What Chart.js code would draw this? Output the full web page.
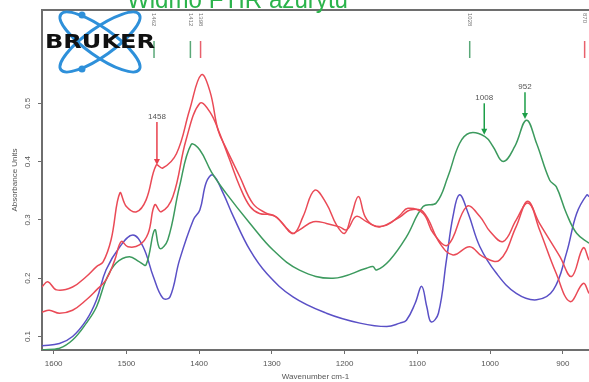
<!DOCTYPE html>
<html>
<head>
<meta charset="utf-8">
<script src="https://cdn.jsdelivr.net/npm/chart.js@4.4.0/dist/chart.umd.min.js"></script>
<style>
  html, body { margin: 0; padding: 0; background: #fff; }
  #wrap { width: 589px; height: 382px; position: relative; }
</style>
</head>
<body>
<div id="wrap"><canvas id="myChart"></canvas></div>
<script>
// axis ticks
const xTicks = [1600, 1500, 1400, 1300, 1200, 1100, 1000, 900];
const yTicks = [0.1, 0.2, 0.3, 0.4, 0.5];

// upper red spectrum
const r1Wn = [1616, 1608, 1596, 1574, 1555, 1541, 1532, 1521, 1509, 1500, 1486, 1473, 1459, 1450, 1431, 1413, 1397, 1385, 1374, 1363, 1344, 1326, 1307, 1294, 1280, 1269, 1257, 1241, 1225, 1211, 1200, 1191, 1181, 1172, 1161, 1142, 1124, 1113, 1092, 1078, 1058, 1032, 1014, 1000, 982, 964, 948, 932, 904, 888, 872, 864];
const r1Abs = [0.185, 0.194, 0.180, 0.185, 0.203, 0.220, 0.228, 0.266, 0.346, 0.323, 0.314, 0.334, 0.394, 0.389, 0.414, 0.489, 0.549, 0.520, 0.454, 0.423, 0.374, 0.328, 0.311, 0.305, 0.286, 0.277, 0.306, 0.351, 0.328, 0.291, 0.277, 0.306, 0.340, 0.306, 0.291, 0.291, 0.308, 0.320, 0.311, 0.277, 0.257, 0.323, 0.306, 0.280, 0.263, 0.300, 0.329, 0.294, 0.237, 0.203, 0.252, 0.231];

// lower red spectrum
const r2Wn = [1616, 1606, 1592, 1574, 1555, 1541, 1528, 1516, 1507, 1498, 1482, 1470, 1461, 1452, 1436, 1418, 1399, 1385, 1372, 1358, 1344, 1330, 1317, 1298, 1285, 1273, 1262, 1243, 1225, 1207, 1197, 1184, 1170, 1152, 1124, 1110, 1092, 1069, 1051, 1028, 1010, 987, 964, 948, 932, 909, 890, 872, 864];
const r2Abs = [0.142, 0.145, 0.140, 0.145, 0.163, 0.180, 0.197, 0.231, 0.263, 0.254, 0.257, 0.277, 0.326, 0.314, 0.340, 0.437, 0.500, 0.485, 0.449, 0.403, 0.357, 0.323, 0.311, 0.308, 0.294, 0.277, 0.283, 0.297, 0.294, 0.288, 0.283, 0.306, 0.297, 0.288, 0.305, 0.317, 0.314, 0.260, 0.240, 0.254, 0.237, 0.231, 0.289, 0.332, 0.283, 0.208, 0.160, 0.191, 0.174];

// green spectrum
const gWn = [1616, 1592, 1574, 1555, 1541, 1528, 1514, 1496, 1482, 1473, 1461, 1454, 1443, 1427, 1411, 1399, 1383, 1363, 1330, 1298, 1262, 1216, 1170, 1161, 1156, 1138, 1115, 1092, 1074, 1058, 1042, 1028, 1007, 996, 982, 966, 950, 936, 918, 909, 895, 881, 864];
const gAbs = [0.077, 0.080, 0.094, 0.123, 0.151, 0.197, 0.226, 0.237, 0.228, 0.223, 0.283, 0.251, 0.266, 0.357, 0.429, 0.420, 0.382, 0.346, 0.294, 0.248, 0.214, 0.200, 0.217, 0.220, 0.214, 0.231, 0.271, 0.323, 0.329, 0.374, 0.431, 0.449, 0.443, 0.426, 0.400, 0.426, 0.471, 0.431, 0.368, 0.357, 0.311, 0.277, 0.260];

// blue spectrum
const bWn = [1616, 1592, 1574, 1555, 1541, 1528, 1509, 1491, 1477, 1463, 1450, 1440, 1427, 1408, 1399, 1390, 1381, 1367, 1353, 1330, 1307, 1271, 1225, 1179, 1142, 1124, 1115, 1103, 1094, 1087, 1081, 1071, 1060, 1051, 1042, 1030, 1014, 991, 964, 936, 913, 895, 881, 867, 864];
const bAbs = [0.084, 0.088, 0.100, 0.128, 0.163, 0.214, 0.254, 0.274, 0.254, 0.203, 0.166, 0.168, 0.231, 0.300, 0.317, 0.365, 0.377, 0.346, 0.306, 0.248, 0.208, 0.168, 0.140, 0.123, 0.117, 0.123, 0.128, 0.157, 0.186, 0.151, 0.125, 0.140, 0.231, 0.306, 0.343, 0.311, 0.254, 0.208, 0.174, 0.163, 0.180, 0.243, 0.311, 0.343, 0.340];

// peak markers along the top
const markerWn = [1462, 1412, 1398, 1028, 870];
const markerColor = ['#5aa878', '#5aa878', '#e8606c', '#5aa878', '#e8606c'];

// labelled arrows
const arrowLabel = ['1458', '1008', '952'];
const arrowWn = [1458, 1008, 952];
const arrowTop = [0.468, 0.500, 0.519];
const arrowTip = [0.394, 0.446, 0.473];
const arrowColor = ['#e8404c', '#1c9e48', '#1c9e48'];

const red = '#ea4a56';
const green = '#3c9a5e';
const blue = '#5a50c6';
const axisColor = '#6e6e6e';
const tickColor = '#555';
const family = '"Liberation Sans", Arial, sans-serif';

const toPoints = (wn, abs) => wn.map((w, i) => ({ x: w, y: abs[i] }));

const extrasPlugin = {
  id: 'extras',
  afterDraw(chart) {
    const { ctx, chartArea } = chart;
    const x = chart.scales.x;
    const y = chart.scales.y;
    ctx.save();

    // top frame line
    ctx.strokeStyle = axisColor;
    ctx.lineWidth = 2;
    ctx.beginPath();
    ctx.moveTo(chartArea.left, chartArea.top);
    ctx.lineTo(chartArea.right, chartArea.top);
    ctx.stroke();

    // rotated y tick labels
    ctx.fillStyle = tickColor;
    ctx.font = '8px ' + family;
    ctx.textAlign = 'center';
    ctx.textBaseline = 'middle';
    yTicks.forEach(v => {
      ctx.save();
      ctx.translate(28, y.getPixelForValue(v));
      ctx.rotate(-Math.PI / 2);
      ctx.fillText(v.toFixed(1), 0, 0);
      ctx.restore();
    });

    // peak markers
    markerWn.forEach((w, i) => {
      const px = x.getPixelForValue(w);
      ctx.save();
      ctx.translate(px, chartArea.top + 3);
      ctx.rotate(Math.PI / 2);
      ctx.font = '6px ' + family;
      ctx.fillStyle = '#777';
      ctx.textAlign = 'left';
      ctx.textBaseline = 'middle';
      ctx.fillText(String(w), 0, 0);
      ctx.restore();
      ctx.strokeStyle = markerColor[i];
      ctx.lineWidth = 1.5;
      ctx.beginPath();
      ctx.moveTo(px, chartArea.top + 31);
      ctx.lineTo(px, chartArea.top + 48);
      ctx.stroke();
    });

    // arrows with labels
    arrowWn.forEach((w, i) => {
      const px = x.getPixelForValue(w);
      const top = y.getPixelForValue(arrowTop[i]);
      const tip = y.getPixelForValue(arrowTip[i]);
      ctx.strokeStyle = arrowColor[i];
      ctx.fillStyle = arrowColor[i];
      ctx.lineWidth = 1.5;
      ctx.beginPath();
      ctx.moveTo(px, top);
      ctx.lineTo(px, tip - 5);
      ctx.stroke();
      ctx.beginPath();
      ctx.moveTo(px - 3, tip - 6);
      ctx.lineTo(px + 3, tip - 6);
      ctx.lineTo(px, tip);
      ctx.closePath();
      ctx.fill();
      ctx.fillStyle = '#555';
      ctx.font = '8px ' + family;
      ctx.textAlign = 'center';
      ctx.textBaseline = 'bottom';
      ctx.fillText(arrowLabel[i], px, top - 1);
    });

    // Bruker logo
    ctx.strokeStyle = '#2e90da';
    ctx.lineWidth = 3;
    [0.616, -0.616].forEach(a => {
      ctx.beginPath();
      ctx.ellipse(100, 42, 48, 14, a, 0, Math.PI * 2);
      ctx.stroke();
    });
    ctx.fillStyle = '#2e90da';
    [[82, 15], [82, 69]].forEach(p => {
      ctx.beginPath();
      ctx.arc(p[0], p[1], 3.5, 0, Math.PI * 2);
      ctx.fill();
    });
    ctx.font = 'bold 20px "DejaVu Sans", sans-serif';
    ctx.fillStyle = '#111';
    ctx.textAlign = 'left';
    ctx.textBaseline = 'middle';
    const bw = ctx.measureText('BRUKER').width;
    ctx.save();
    ctx.translate(45, 43);
    ctx.scale(110 / bw, 1);
    ctx.fillText('BRUKER', 0, 0);
    ctx.restore();

    // title, cut off by the top edge
    ctx.font = '26px ' + family;
    ctx.fillStyle = '#2bb34b';
    ctx.textBaseline = 'alphabetic';
    const tw = ctx.measureText('Widmo FTIR azurytu').width;
    ctx.save();
    ctx.translate(127, 7.5);
    ctx.scale(221 / tw, 1);
    ctx.fillText('Widmo FTIR azurytu', 0, 0);
    ctx.restore();

    ctx.restore();
  }
};

const line = (label, wn, abs, color) => ({
  label: label,
  data: toPoints(wn, abs),
  borderColor: color,
  backgroundColor: color,
  borderWidth: 1.5,
  pointRadius: 0,
  tension: 0.4,
  fill: false
});

const ctx = document.getElementById('myChart').getContext('2d');
const chart = new Chart(ctx, {
  type: 'line',
  data: {
    datasets: [
      line('Red 1', r1Wn, r1Abs, red),
      line('Red 2', r2Wn, r2Abs, red),
      line('Green', gWn, gAbs, green),
      line('Blue', bWn, bAbs, blue)
    ]
  },
  options: {
    responsive: true,
    maintainAspectRatio: false,
    animation: false,
    layout: { padding: { top: 10, right: 0, left: 0, bottom: 0 } },
    plugins: { legend: { display: false }, tooltip: { enabled: false } },
    scales: {
      x: {
        type: 'linear',
        reverse: true,
        min: 864,
        max: 1616,
        afterBuildTicks: s => { s.ticks = xTicks.map(v => ({ value: v })); },
        afterFit: s => { s.height = 32; },
        grid: { drawOnChartArea: false, tickLength: 4, color: axisColor },
        border: { color: axisColor, width: 2 },
        ticks: { font: { size: 8, family: family }, color: tickColor, padding: 5, maxRotation: 0, callback: v => String(v) },
        title: { display: true, text: 'Wavenumber cm-1', color: tickColor, font: { size: 8, family: family }, padding: { top: 0, bottom: 0 } }
      },
      y: {
        type: 'linear',
        min: 0.0769,
        max: 0.66,
        afterBuildTicks: s => { s.ticks = yTicks.map(v => ({ value: v })); },
        afterFit: s => { s.width = 42; },
        grid: { drawOnChartArea: false, tickLength: 4, color: axisColor },
        border: { color: axisColor, width: 2 },
        ticks: { display: false },
        title: { display: true, text: 'Absorbance Units', color: tickColor, font: { size: 8, family: family }, padding: { top: 10, bottom: 0 } }
      }
    }
  },
  plugins: [extrasPlugin]
});
</script>
</body>
</html>
